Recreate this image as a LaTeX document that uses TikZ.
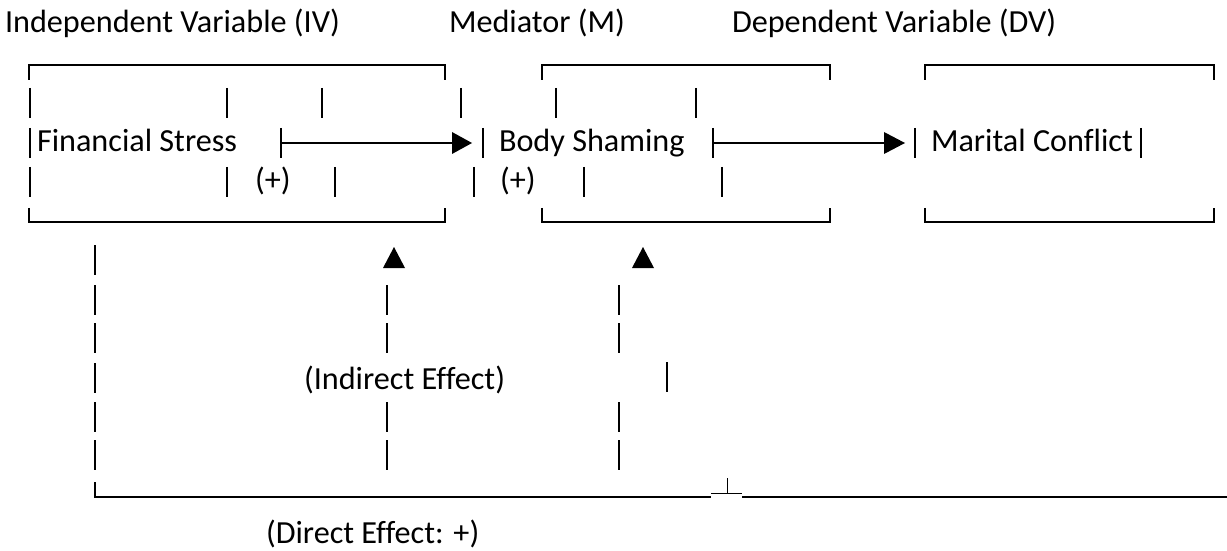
\documentclass[tikz,border=0pt]{standalone}
\usepackage{fontspec}
\setmainfont{Carlito}[Ligatures=NoCommon]
\begin{document}
\begin{tikzpicture}[x=0.5pt,y=-0.5pt,
  txt/.style={anchor=base west,inner sep=0pt,outer sep=0pt,font=\fontsize{16.1pt}{19pt}\selectfont},
  pipe/.style={line width=0.8pt},
  boxline/.style={line width=1pt},
  longline/.style={line width=1.15pt},
  thinline/.style={line width=0.5pt},
  tip/.style={fill=black,draw=none}]
\useasboundingbox (0,0) rectangle (1227,551);
% titles
\node[txt] (tiv) at (5,33) {Independent Variable (IV)};
\node[txt] (tm) at (449,33) {Mediator (M)};
\node[txt] (tdv) at (732,33) {Dependent Variable (DV)};
% boxes (box-drawing frames)
\foreach \l/\r in {29/445,542/830,925/1214}{
  \draw[boxline] (\l,80) -- (\l,65) -- (\r,65) -- (\r,80);
  \draw[boxline] (\l,208) -- (\l,222) -- (\r,222) -- (\r,208);
}
% row 2 pipes
\foreach \x in {30,227,322,461,556,696} \draw[pipe] (\x,88) -- (\x,118);
% row 3 pipes
\foreach \x in {30,281,483,713,915,1141} \draw[pipe] (\x,128) -- (\x,158);
% row 4 pipes
\foreach \x in {30,227,335,474,584,722} \draw[pipe] (\x,167) -- (\x,197);
% row 3 texts
\node[txt] (fs) at (37,152) {Financial Stress};
\node[txt] (bs) at (499,152) {Body Shaming};
\node[txt] (mc) at (931,152) {Marital Conflict};
% row 4 texts
\node[txt] (p1) at (255,191) {(+)};
\node[txt] (p2) at (500,191) {(+)};
% horizontal arrows
\coordinate (a1s) at (282,143); \coordinate (a1e) at (452,143);
\coordinate (a2s) at (714,143); \coordinate (a2e) at (884,143);
\draw[pipe] (a1s) -- (a1e);
\draw[pipe] (a2s) -- (a2e);
\fill[tip] (a1e) ++(0,-11) -- ++(20,11) -- ++(-20,11) -- cycle;
\fill[tip] (a2e) ++(0,-11) -- ++(21,11) -- ++(-21,11) -- cycle;
% upward triangles
\coordinate (u1) at (394,247); \coordinate (u2) at (643,247);
\fill[tip] (u1) -- ++(11,21) -- ++(-22,0) -- cycle;
\fill[tip] (u2) -- ++(11,21) -- ++(-22,0) -- cycle;
% left column
\foreach \a/\b in {245/275,285/315,323/353,363/393,402/432,440/470} \draw[pipe] (95,\a) -- (95,\b);
% middle and right columns
\foreach \a/\b in {285/315,323/353,402/432,440/470}{
  \draw[pipe] (387,\a) -- (387,\b);
  \draw[pipe] (619,\a) -- (619,\b);
}
\draw[pipe] (667,362) -- (667,392);
\node[txt] (ie) at (304,389) {(Indirect Effect)};
% bottom long line with junction
\coordinate (c0) at (95,482);
\coordinate (j1) at (711,497); \coordinate (j2) at (742,497);
\draw[longline] (c0) -- (95,497) -- (j1);
\draw[longline] (j2) -- (1227,497);
\draw[thinline] (711,493) -- (742,493);
\draw[thinline] (727,478) -- (727,493);
\node[txt] (de) at (266,543) {(Direct Effect: +)};
\end{tikzpicture}
\end{document}
